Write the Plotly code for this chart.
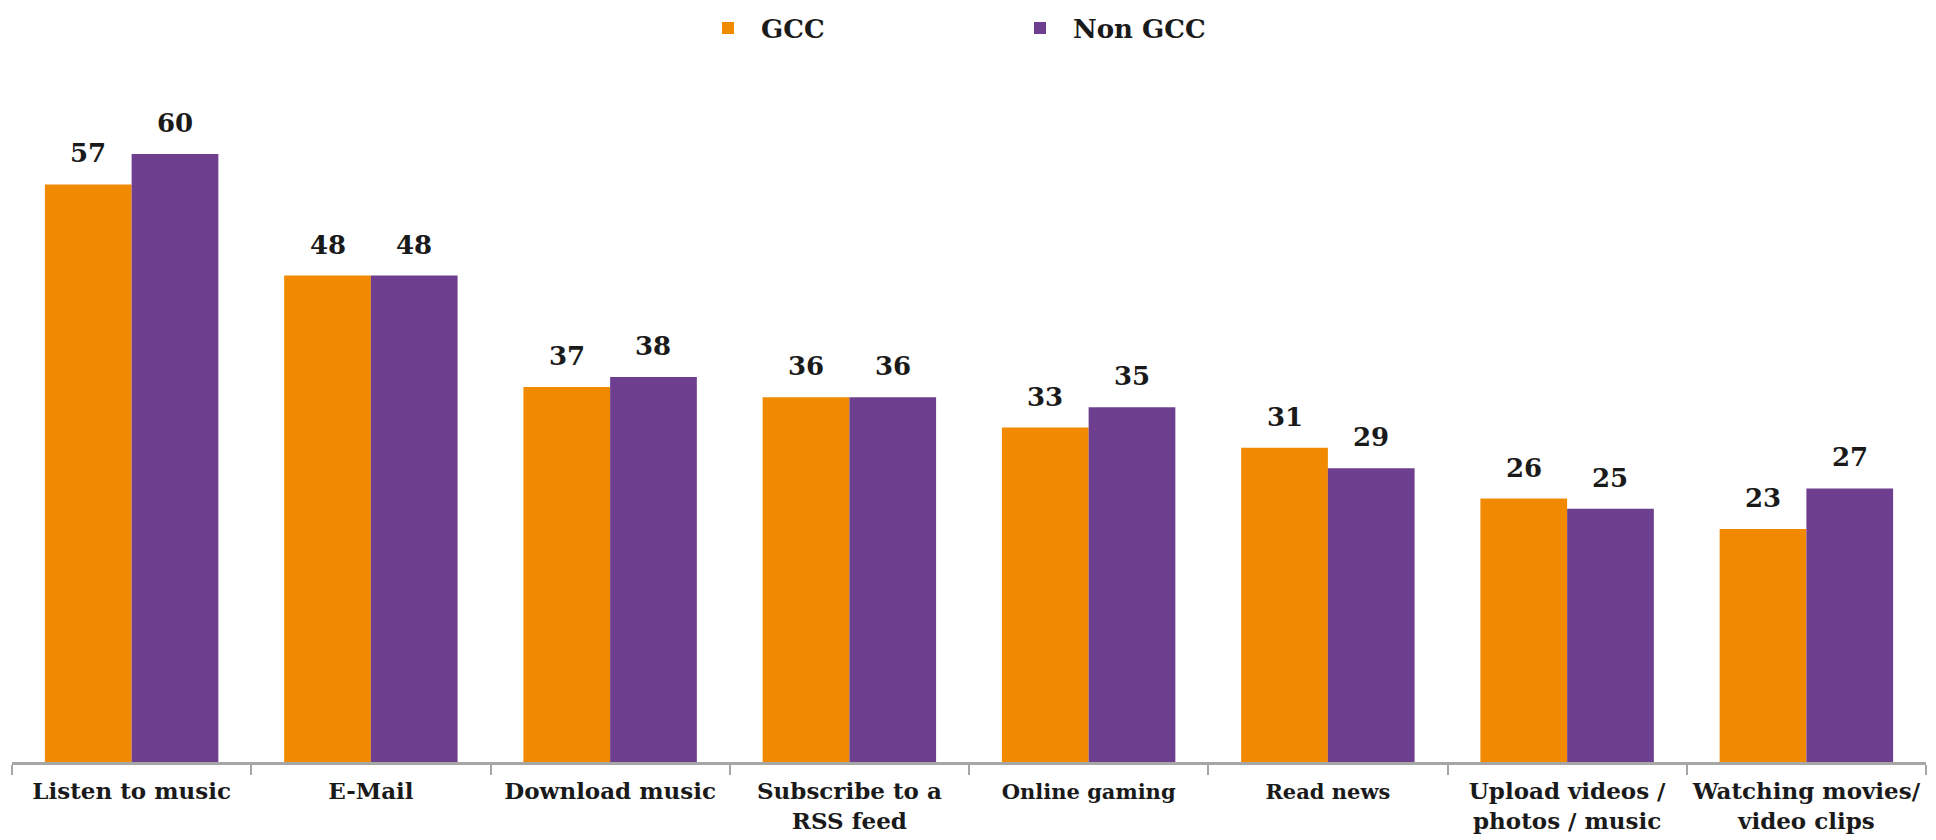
import plotly.graph_objects as go

categories = ["Listen to music", "E-Mail", "Download music", "Subscribe to a<br>RSS feed",
              "Online gaming", "Read news", "Upload videos /<br>photos / music",
              "Watching movies/<br>video clips"]
gcc = [57, 48, 37, 36, 33, 31, 26, 23]
non_gcc = [60, 48, 38, 36, 35, 29, 25, 27]
series_names = ["GCC", "Non GCC"]
colors = ["#F18A00", "#6E3F8E"]
small_label_cats = ["Online gaming", "Read news"]

W, H = 1928, 832
ML, MR, MT, MB = 4, 10, 52, 78
plot_w = W - ML - MR
plot_h = H - MT - MB
cat_px = plot_w / len(categories)
bargap = 0.275
bar_px = cat_px * (1 - bargap) / 2

fig = go.Figure()
for name, vals, col in zip(series_names, [gcc, non_gcc], colors):
    fig.add_trace(go.Bar(x=categories, y=vals, name=f"<b>{name}</b>",
                         marker=dict(color=col, line=dict(width=0))))

label_font = dict(family="DejaVu Serif", size=26, color="#1a1a1a")
for i, vals in enumerate([gcc, non_gcc]):
    shift = (-0.5 if i == 0 else 0.5) * bar_px
    for c, v in zip(categories, vals):
        fig.add_annotation(x=c, y=v, text=f"<b>{v}</b>", showarrow=False, xshift=shift,
                           yanchor="bottom", yshift=14, font=label_font)

ticktext = []
for c in categories:
    if c in small_label_cats:
        ticktext.append(f"<span style='font-size:21px'><b>{c}</b></span>")
    else:
        ticktext.append(f"<b>{c}</b>")

fig.update_layout(
    width=W, height=H,
    margin=dict(l=ML, r=MR, t=MT, b=MB, autoexpand=False),
    paper_bgcolor="white", plot_bgcolor="white",
    barmode="group", bargap=bargap, bargroupgap=0,
    showlegend=True,
    legend=dict(orientation="h", x=(687 - ML) / plot_w, xanchor="left",
                y=1 + (MT - 20) / plot_h, yanchor="middle",
                itemwidth=56,
                entrywidth=241, entrywidthmode="pixels",
                font=dict(family="DejaVu Serif", size=26, color="#1a1a1a"),
                bgcolor="rgba(0,0,0,0)"),
    xaxis=dict(showline=True, linecolor="#A6A6A6", linewidth=3,
               ticks="outside", tickson="boundaries", ticklen=10, tickwidth=2, tickcolor="#A6A6A6",
               ticklabelstandoff=6, automargin=False,
               tickfont=dict(family="DejaVu Serif", size=23, color="#1a1a1a"),
               tickvals=categories, ticktext=ticktext,
               showgrid=False, zeroline=False),
    yaxis=dict(visible=False, range=[0, plot_h / (608 / 60)], showgrid=False, zeroline=False),
)

fig.write_html("out.html")
